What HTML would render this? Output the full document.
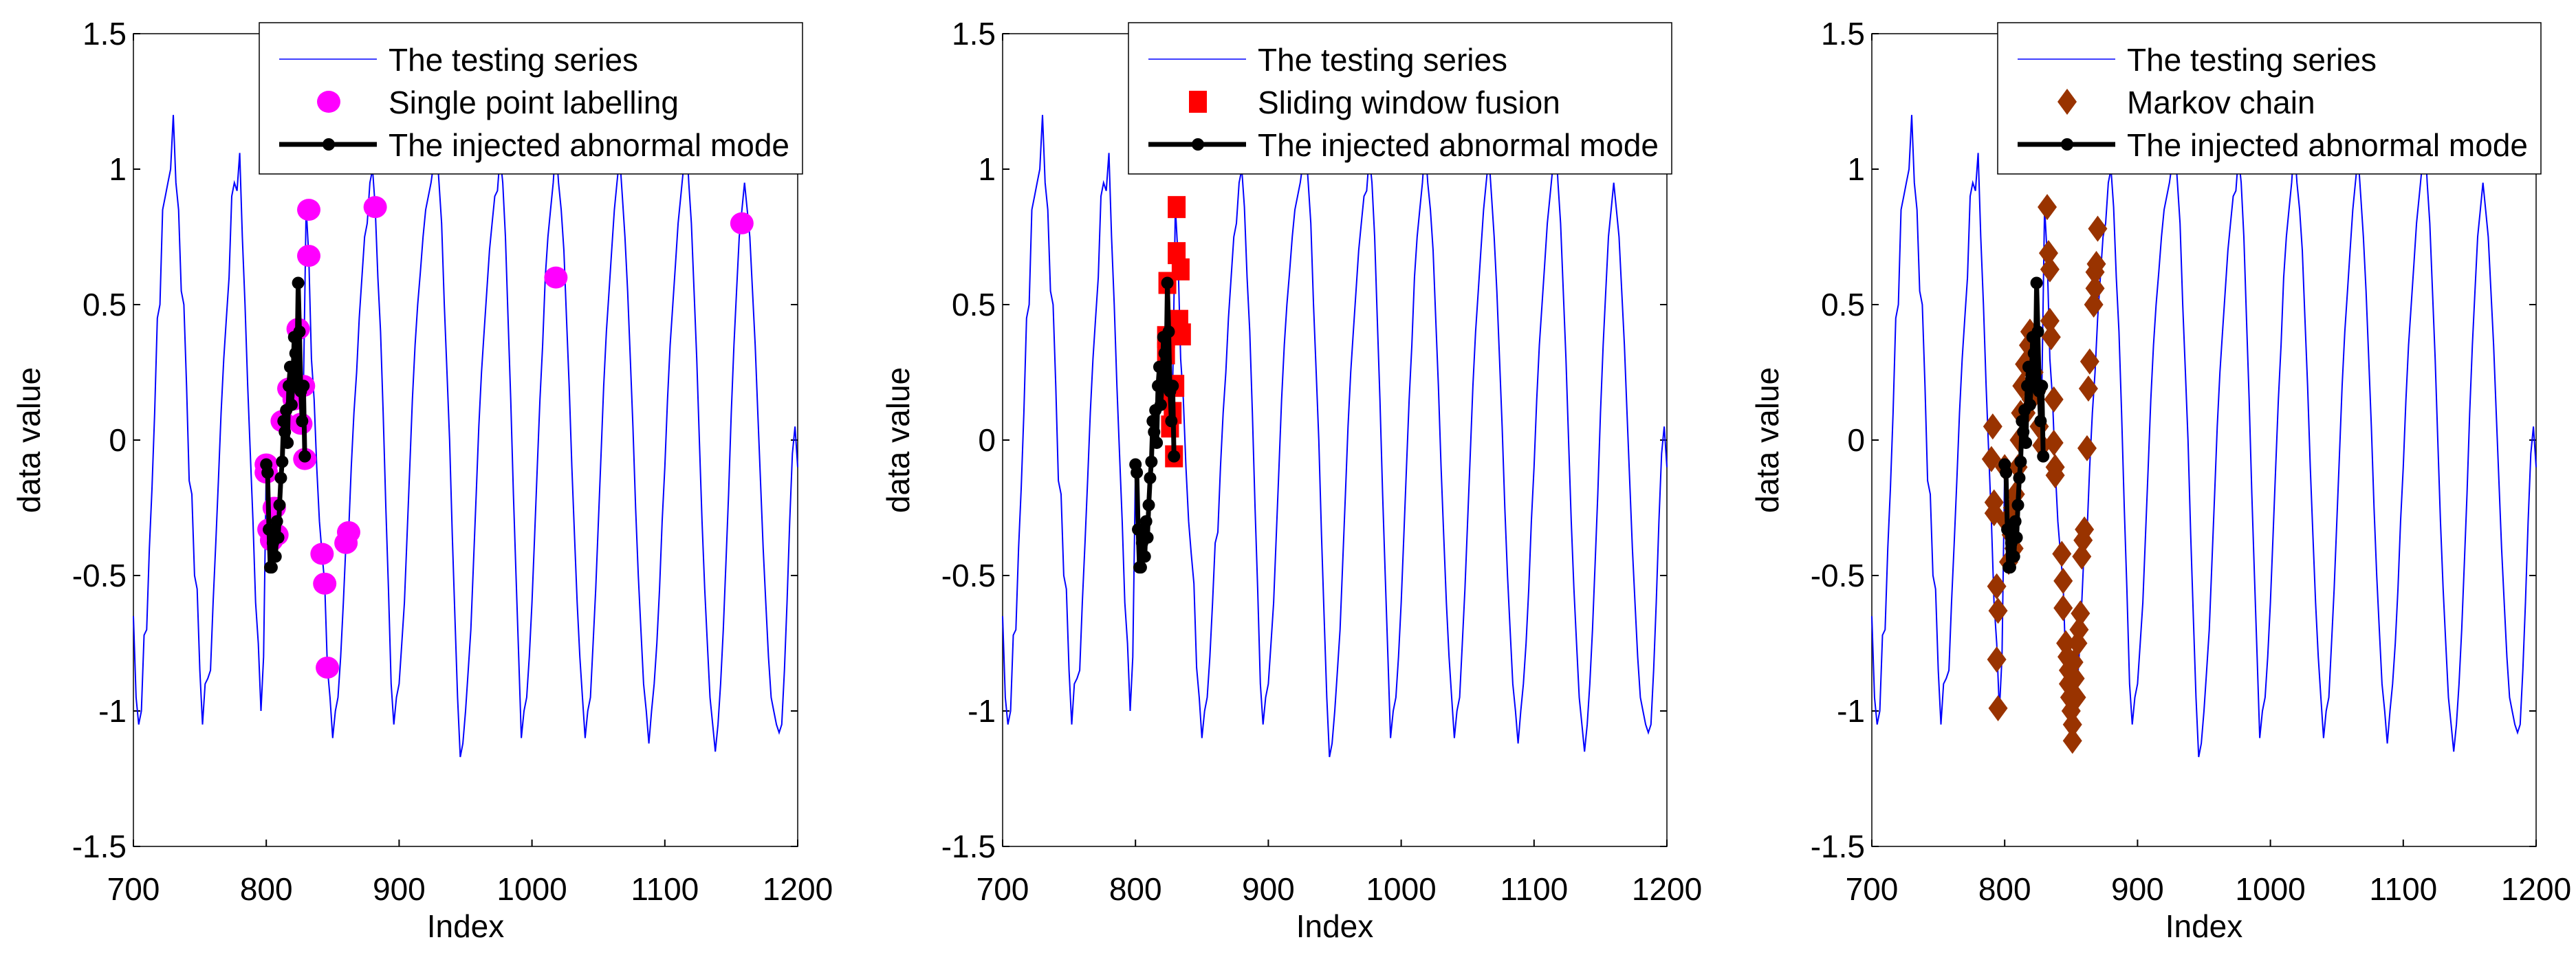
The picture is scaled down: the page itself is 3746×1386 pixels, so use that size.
<!DOCTYPE html>
<html><head><meta charset="utf-8"><style>
html,body{margin:0;padding:0;background:#fff;}
svg{display:block;font-family:"Liberation Sans",Arial,sans-serif;}
</style></head><body>
<svg id="fig" width="3746" height="1386" viewBox="0 0 3746 1386" xmlns="http://www.w3.org/2000/svg"></svg>
<script>
const xTicks=[700,800,900,1000,1100,1200];
const yTicks=[-1.5,-1,-0.5,0,0.5,1,1.5];
const yTickLabels=["-1.5","-1","-0.5","0","0.5","1","1.5"];
const testingSeries=[[700,-0.65],[702,-0.95],[704,-1.05],[706,-1.0],[708,-0.72],[710,-0.7],[712,-0.4],[714,-0.18],[716,0.1],[718,0.45],[720,0.5],[722,0.85],[724,0.9],[726,0.95],[728,1.0],[730,1.2],
[732,0.95],[734,0.85],[736,0.55],[738,0.5],[740,0.2],[742,-0.15],[744,-0.2],[746,-0.5],[748,-0.55],[750,-0.85],[752,-1.05],[754,-0.9],
[756,-0.88],[758,-0.85],[760,-0.6],[762,-0.38],[764,-0.15],[766,0.1],[768,0.3],[770,0.45],[772,0.6],[774,0.9],[776,0.95],[778,0.92],[780,1.06],
[782,0.75],[784,0.5],[786,0.2],[788,-0.05],[790,-0.3],[792,-0.6],[794,-0.75],[796,-1.0],[798,-0.8],
[800,-0.1],[802,-0.33],[804,-0.47],[806,-0.33],[808,-0.3],[810,-0.24],[812,-0.08],[814,0.03],[816,0.0],[818,0.27],[820,0.2],[822,0.32],[824,0.58],[826,0.18],[828,0.2],[830,0.86],[832,0.68],[834,0.3],[836,0.15],[838,-0.1],[840,-0.3],[842,-0.42],[844,-0.53],[846,-0.84],[848,-0.95],[850,-1.1],[852,-1.0],[854,-0.95],[856,-0.8],[858,-0.6],[860,-0.38],[862,-0.34],[864,-0.1],[866,0.1],[868,0.25],[870,0.45],[872,0.6],[874,0.75],[876,0.8],[878,0.95],[880,1.0],[882,0.86],
[884,0.6],[886,0.4],[888,0.1],[890,-0.25],[892,-0.55],[894,-0.9],[896,-1.05],[898,-0.95],
[900,-0.9],[902,-0.75],[904,-0.6],[906,-0.35],[908,-0.1],[910,0.15],[912,0.35],[914,0.5],[916,0.62],[918,0.75],[920,0.85],[922,0.9],[924,0.95],[926,1.02],[928,1.1],[930,0.95],
[932,0.8],[934,0.5],[936,0.25],[938,0.0],[940,-0.35],[942,-0.65],[944,-0.95],[946,-1.17],[948,-1.12],[950,-1.0],
[952,-0.85],[954,-0.7],[956,-0.45],[958,-0.2],[960,0.05],[962,0.25],[964,0.4],[966,0.55],[968,0.7],[970,0.8],[972,0.9],[974,0.92],[976,1.05],[978,0.95],
[980,0.75],[982,0.45],[984,0.15],[986,-0.2],[988,-0.5],[990,-0.8],[992,-1.1],[994,-1.0],
[996,-0.95],[998,-0.8],[1000,-0.6],[1002,-0.35],[1004,-0.1],[1006,0.15],[1008,0.35],[1010,0.6],[1012,0.75],[1014,0.85],[1016,0.95],[1018,1.1],[1020,0.95],
[1022,0.85],[1024,0.7],[1026,0.45],[1028,0.2],[1030,-0.1],[1032,-0.35],[1034,-0.6],[1036,-0.8],[1038,-0.95],[1040,-1.1],[1042,-1.0],
[1044,-0.95],[1046,-0.75],[1048,-0.55],[1050,-0.3],[1052,-0.05],[1054,0.2],[1056,0.4],[1058,0.55],[1060,0.7],[1062,0.85],[1064,0.95],[1066,1.05],[1068,0.9],
[1070,0.75],[1072,0.55],[1074,0.3],[1076,0.05],[1078,-0.25],[1080,-0.5],[1082,-0.7],[1084,-0.9],[1086,-1.0],[1088,-1.12],[1090,-1.0],
[1092,-0.9],[1094,-0.75],[1096,-0.55],[1098,-0.3],[1100,-0.1],[1102,0.15],[1104,0.35],[1106,0.5],[1108,0.65],[1110,0.8],[1112,0.9],[1114,1.0],[1116,1.15],[1118,0.95],
[1120,0.8],[1122,0.55],[1124,0.3],[1126,0.0],[1128,-0.3],[1130,-0.55],[1132,-0.75],[1134,-0.95],[1136,-1.05],[1138,-1.15],[1140,-1.05],
[1142,-0.9],[1144,-0.7],[1146,-0.45],[1148,-0.2],[1150,0.1],[1152,0.35],[1154,0.55],[1156,0.75],[1158,0.85],[1160,0.95],[1162,0.85],
[1164,0.75],[1166,0.55],[1168,0.35],[1170,0.1],[1172,-0.15],[1174,-0.4],[1176,-0.6],[1178,-0.8],[1180,-0.95],[1182,-1.0],[1184,-1.05],[1186,-1.08],[1188,-1.05],
[1190,-0.85],[1192,-0.6],[1194,-0.3],[1196,-0.05],[1198,0.05],[1200,-0.1]];
const abnormalIdx=[800,801,802,803,804,805,806,807,808,809,810,811,812,813,814,815,816,817,818,819,820,821,822,823,824,825,826,827,828,829];
const abnormalVal=[-0.09,-0.12,-0.33,-0.47,-0.47,-0.38,-0.33,-0.43,-0.3,-0.36,-0.24,-0.14,-0.08,0.07,0.03,0.11,-0.01,0.2,0.27,0.13,0.2,0.38,0.32,0.22,0.58,0.4,0.18,0.07,0.2,-0.06];
const singleIdx=[800,800,802,804,806,808,812,817,821,824,826,828,829,832,832,842,844,846,860,862,882,1018,1158];
const singleVal=[-0.09,-0.12,-0.33,-0.37,-0.25,-0.35,0.07,0.19,0.15,0.41,0.06,0.2,-0.07,0.85,0.68,-0.42,-0.53,-0.84,-0.38,-0.34,0.86,0.6,0.8];
const slidingIdx=[831,831,834,824,833,835,823,823,830,826,829,822,828];
const slidingVal=[0.86,0.69,0.63,0.58,0.44,0.39,0.38,0.32,0.2,0.05,-0.06,0.15,0.1];
const markovIdx=[791,790,792,792,794,795,794,795,800,801,803,805,806,807,808,810,811,812,813,815,816,818,819,820,822,824,826,828,832,833,834,834,835,837,837,838,838,843,844,844,846,847,848,848,849,850,851,851,852,853,854,855,856,857,858,859,860,862,863,864,867,868,868,869,870];
const markovVal=[0.05,-0.07,-0.23,-0.27,-0.54,-0.63,-0.81,-0.99,-0.1,-0.3,-0.45,-0.35,-0.25,-0.4,-0.2,-0.1,0.0,0.1,0.2,0.28,0.1,0.35,0.4,0.15,0.25,0.18,0.05,-0.02,0.86,0.69,0.63,0.44,0.38,0.15,-0.01,-0.1,-0.13,-0.42,-0.52,-0.62,-0.75,-0.8,-0.85,-0.9,-0.95,-1.0,-1.05,-1.11,-0.82,-0.88,-0.95,-0.75,-0.7,-0.64,-0.43,-0.37,-0.33,-0.03,0.19,0.29,0.5,0.56,0.62,0.65,0.78];

const NS="http://www.w3.org/2000/svg";
const fig=document.getElementById('fig');
function mk(tag,attrs,parent){const e=document.createElementNS(NS,tag);for(const k in attrs)e.setAttribute(k,attrs[k]);(parent||fig).appendChild(e);return e;}
const TOP=49,H=1182,W=966;
const panels=[
 {left:194,name:'single',label:'Single point labelling',idx:singleIdx,val:singleVal,kind:'circle'},
 {left:1458,name:'sliding',label:'Sliding window fusion',idx:slidingIdx,val:slidingVal,kind:'square'},
 {left:2722,name:'markov',label:'Markov chain',idx:markovIdx,val:markovVal,kind:'diamond'}];
function marker(kind,cx,cy,g){
 let e;
 if(kind==='circle'){e=mk('ellipse',{cx:cx,cy:cy,rx:17,ry:16,fill:'#ff00ff'},g);}
 else if(kind==='square'){e=mk('rect',{x:cx-13,y:cy-16,width:26,height:32,fill:'#ff0000'},g);}
 else {e=mk('polygon',{points:`${cx},${cy-19} ${cx+14},${cy} ${cx},${cy+19} ${cx-14},${cy}`,fill:'#993300'},g);}
 return e;
}
panels.forEach((p,pi)=>{
 const L=p.left;
 const sx=v=>L+(v-700)/500*W;
 const sy=v=>TOP+(1.5-v)/3*H;
 const g=mk('g',{});
 
 
 const box=mk('rect',{x:L,y:TOP,width:W,height:H,fill:'#fff',stroke:'#000','stroke-width':1.5},g);
 
 
 xTicks.forEach(t=>{
  const x=sx(t);
  const tk=mk('path',{d:`M${x},${TOP+H}v-10M${x},${TOP}v10`,stroke:'#000','stroke-width':2},g);
  
  
  const tl=mk('text',{x:x,y:TOP+H+78,'font-size':46,'text-anchor':'middle',fill:'#000'},g);
  tl.textContent=t;
  
  
 });
 yTicks.forEach((t,i)=>{
  const y=sy(t);
  const tk=mk('path',{d:`M${L},${y}h10M${L+W},${y}h-10`,stroke:'#000','stroke-width':2},g);
  
  
  const tl=mk('text',{x:L-10,y:y+16,'font-size':46,'text-anchor':'end',fill:'#000'},g);
  tl.textContent=yTickLabels[i];
  
  
 });
 const yl=mk('text',{x:0,y:0,'font-size':46,'text-anchor':'middle',transform:`translate(${L-136},${TOP+H/2}) rotate(-90)`},g);
 yl.textContent='data value';
 
 
 const xl=mk('text',{x:L+W/2,y:TOP+H+132,'font-size':46,'text-anchor':'middle'},g);
 xl.textContent='Index';
 
 
 const d=testingSeries.map((q,i)=>(i?'L':'M')+sx(q[0]).toFixed(1)+','+sy(q[1]).toFixed(1)).join('');
 const ts=mk('path',{d:d,fill:'none',stroke:'#0000ff','stroke-width':2},g);
 
 
 const mg=mk('g',{},g);
 
 
 p.idx.forEach((ix,i)=>{
  const m=marker(p.kind,sx(ix),sy(p.val[i]),mg);
  
  
 });
 const ad=abnormalIdx.map((ix,i)=>(i?'L':'M')+sx(ix).toFixed(1)+','+sy(abnormalVal[i]).toFixed(1)).join('');
 const al=mk('path',{d:ad,fill:'none',stroke:'#000','stroke-width':7,'stroke-linejoin':'round'},g);
 
 
 abnormalIdx.forEach((ix,i)=>{
  const c=mk('ellipse',{cx:sx(ix),cy:sy(abnormalVal[i]),rx:9,ry:9,fill:'#000'},g);
  
  
 });
 const lg=mk('g',{},g);
 
 
 const lx=L+183, ly=33;
 mk('rect',{x:lx,y:ly,width:790,height:220,fill:'#fff',stroke:'#000','stroke-width':1.5},lg);
 const rows=[53,115,177];
 const e1=mk('line',{x1:lx+29,x2:lx+171,y1:ly+rows[0],y2:ly+rows[0],stroke:'#0000ff','stroke-width':1.5},lg);
 
 
 const e2=marker(p.kind,lx+101,ly+rows[1],lg);
 
 
 const e3=mk('line',{x1:lx+29,x2:lx+171,y1:ly+rows[2],y2:ly+rows[2],stroke:'#000','stroke-width':7},lg);
 
 
 mk('ellipse',{cx:lx+101,cy:ly+rows[2],rx:9,ry:9,fill:'#000'},lg);
 [ 'The testing series', p.label, 'The injected abnormal mode'].forEach((s,i)=>{
  const t=mk('text',{x:lx+188,y:ly+rows[i]+17,'font-size':46,fill:'#000'},lg);
  t.textContent=s;
  
  
 });
});
</script>
</body></html>
